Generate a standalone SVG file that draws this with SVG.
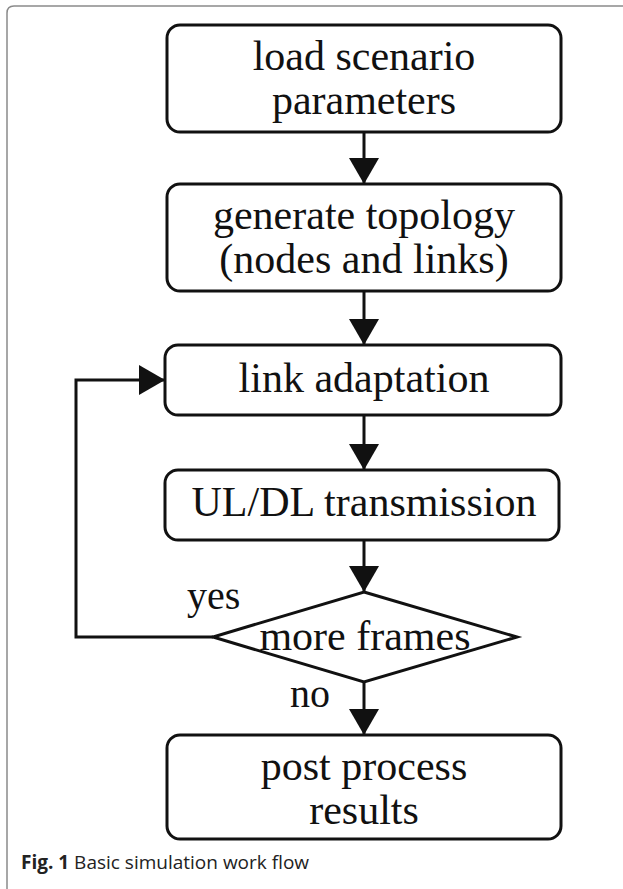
<svg xmlns="http://www.w3.org/2000/svg" width="623" height="889" viewBox="0 0 623 889">
  <defs>
    <marker id="arrow" viewBox="0 0 26 30" refX="26" refY="15" markerWidth="26" markerHeight="30" markerUnits="userSpaceOnUse" orient="auto">
      <path d="M0,0 L26,15 L0,30 Z" fill="#111"/>
    </marker>
    <style>
      .box { fill: #fff; stroke: #111; stroke-width: 3; }
      .edge { fill: none; stroke: #111; stroke-width: 3; marker-end: url(#arrow); }
      .lbl { font-family: "Liberation Serif", "Times New Roman", serif; font-size: 42px; fill: #111; text-anchor: middle; }
      .tag { font-family: "Liberation Serif", "Times New Roman", serif; font-size: 40px; fill: #111; }
      .cap { font-family: "Open Sans", "Liberation Sans", sans-serif; font-size: 19px; fill: #222; }
    </style>
  </defs>

  <rect width="623" height="889" fill="#fff"/>
  <!-- figure frame: top and left sides -->
  <path d="M7,889 V13 Q7,6 14,6 H623" fill="none" stroke="#8a8a8a" stroke-width="1.5"/>

  <g id="connectors">
    <line class="edge" x1="364" y1="132" x2="364" y2="184"/>
    <line class="edge" x1="364" y1="291" x2="364" y2="345"/>
    <line class="edge" x1="364" y1="415" x2="364" y2="470"/>
    <line class="edge" x1="364" y1="540" x2="364" y2="592"/>
    <line class="edge" x1="364" y1="682" x2="364" y2="735"/>
    <polyline class="edge" points="213,637 76,637 76,380 165,380"/>
    <text class="tag" x="187" y="609">yes</text>
    <text class="tag" x="290" y="707">no</text>
  </g>

  <g id="load">
    <rect class="box" x="167" y="25" width="394" height="107" rx="13"/>
    <text class="lbl" x="364" y="70">load scenario</text>
    <text class="lbl" x="364" y="114">parameters</text>
  </g>

  <g id="topology">
    <rect class="box" x="167" y="184" width="394" height="107" rx="13"/>
    <text class="lbl" x="364" y="229">generate topology</text>
    <text class="lbl" x="364" y="273">(nodes and links)</text>
  </g>

  <g id="adaptation">
    <rect class="box" x="165" y="345" width="396" height="70" rx="13"/>
    <text class="lbl" x="364" y="392">link adaptation</text>
  </g>

  <g id="transmission">
    <rect class="box" x="165" y="470" width="394" height="70" rx="13"/>
    <text class="lbl" x="364" y="516">UL/DL transmission</text>
  </g>

  <g id="frames">
    <polygon class="box" points="364,592 517,637 364,682 213,637"/>
    <text class="lbl" x="365" y="650">more frames</text>
  </g>

  <g id="results">
    <rect class="box" x="167" y="735" width="394" height="104" rx="13"/>
    <text class="lbl" x="364" y="780">post process</text>
    <text class="lbl" x="364" y="824">results</text>
  </g>

  <text class="cap" x="21" y="869"><tspan font-weight="bold">Fig. 1</tspan> Basic simulation work flow</text>
</svg>
